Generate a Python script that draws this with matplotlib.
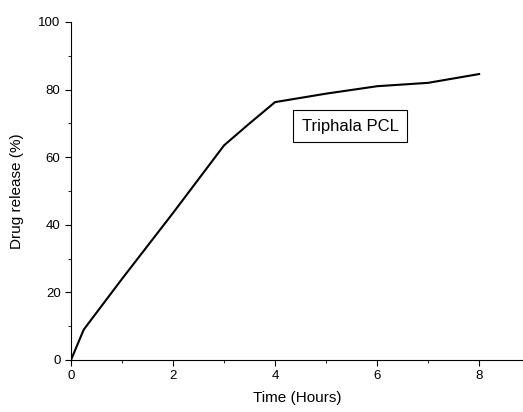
import matplotlib
matplotlib.use("Agg")
import matplotlib.pyplot as plt
from matplotlib.ticker import MultipleLocator

plt.rcParams['font.family'] = ['Liberation Sans', 'DejaVu Sans']

time_h = [0, 0.25, 1, 2, 3, 3.5, 4, 5, 6, 7, 8]
release = [0, 9, 24, 43.5, 63.5, 70, 76.3, 78.8, 81, 82, 84.6]

fig = plt.figure(figsize=(5.23, 4.12), dpi=100)
ax = fig.add_axes([71/523, 52/412, (523-71)/523, 338/412])
ax.plot(time_h, release, color='black', lw=1.5)
ax.set_xlim(0, 8.86)
ax.set_ylim(0, 100)
ax.spines['top'].set_visible(False)
ax.spines['right'].set_visible(False)
ax.xaxis.set_major_locator(MultipleLocator(2))
ax.xaxis.set_minor_locator(MultipleLocator(1))
ax.yaxis.set_major_locator(MultipleLocator(20))
ax.yaxis.set_minor_locator(MultipleLocator(10))
ax.tick_params(which='major', length=4, labelsize=9.5, direction='out')
ax.tick_params(which='minor', length=2.5, direction='out')
ax.set_xlabel('Time (Hours)', fontsize=11, labelpad=6)
ax.set_ylabel('Drug release (%)', fontsize=11, labelpad=10)
ax.text(5.47, 69.2, 'Triphala PCL', ha='center', va='center', fontsize=12,
        bbox=dict(boxstyle='square,pad=0.5', fc='white', ec='black', lw=0.8))
fig.savefig('out.png', dpi=100)
